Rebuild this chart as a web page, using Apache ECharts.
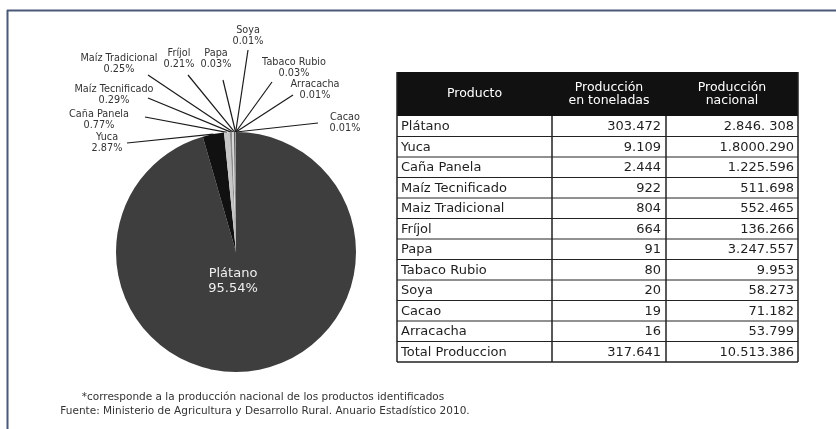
<!DOCTYPE html>
<html><head><meta charset="utf-8">
<script src="https://cdn.jsdelivr.net/npm/echarts@6/dist/echarts.min.js"></script>
<style>html,body{margin:0;padding:0;background:#fff}#c{width:836px;height:429px}</style>
</head><body><div id="c"></div>
<script>
// ---- data ----
const tableProducts = ['Plátano','Yuca','Caña Panela','Maíz Tecnificado','Maiz Tradicional','Fríjol','Papa','Tabaco Rubio','Soya','Cacao','Arracacha','Total Produccion'];
const pieNames = ['Plátano','Yuca','Caña Panela','Maíz Tecnificado','Maíz Tradicional','Fríjol','Papa','Tabaco Rubio','Soya','Cacao','Arracacha'];
const tons = [303472, 9109, 2444, 922, 804, 664, 91, 80, 20, 19, 16];
const tonsText = ['303.472','9.109','2.444','922','804','664','91','80','20','19','16','317.641'];
const nacionalText = ['2.846. 308','1.8000.290','1.225.596','511.698','552.465','136.266','3.247.557','9.953','58.273','71.182','53.799','10.513.386'];
const headers = ['Producto','Producción\nen toneladas','Producción\nnacional'];
const footnotes = ['*corresponde a la producción nacional de los productos identificados','Fuente: Ministerio de Agricultura y Desarrollo Rural. Anuario Estadístico 2010.'];
// order of slices clockwise from the top
const pieOrder = ['Plátano','Yuca','Caña Panela','Maíz Tecnificado','Maíz Tradicional','Fríjol','Papa','Soya','Tabaco Rubio','Arracacha','Cacao'];

// ---- styling / layout ----
const sliceColors = {'Plátano':'#3e3e3e','Yuca':'#111111','Caña Panela':'#c6c6c6','Maíz Tecnificado':'#8c8c8c','Maíz Tradicional':'#d8d8d8','Fríjol':'#5a5a5a','Papa':'#aaaaaa','Soya':'#999999','Tabaco Rubio':'#777777','Arracacha':'#bbbbbb','Cacao':'#666666'};
// label text centre and leader-line end for each outside label
const labelPlace = {
  'Yuca':[107,143,127,143],
  'Caña Panela':[99,120,145,117],
  'Maíz Tecnificado':[114,95,148,98],
  'Maíz Tradicional':[119,64,148,75],
  'Fríjol':[179,59,188,75],
  'Papa':[216,59,223,80],
  'Soya':[248,36,248,50],
  'Tabaco Rubio':[294,68,272,82],
  'Arracacha':[315,90,293,95],
  'Cacao':[345,123,318,123],
  'Plátano':[233,281]
};
const FONT = 'DejaVu Sans';
const total = tons.reduce((a,b)=>a+b,0);

const pieData = pieOrder.map(n => {
  const v = tons[pieNames.indexOf(n)];
  const d = {name:n, value:v, itemStyle:{color:sliceColors[n]}};
  if (n === 'Plátano') {
    d.label = {position:'inside', color:'#eeeeee', fontSize:13, lineHeight:15};
  }
  return d;
});

// ---- table graphics ----
const tX = [397, 552, 666, 798];
const tTop = 72, headH = 44, rowH = 20.5;
const g = [];
// frame
g.push({type:'line', shape:{x1:7.5,y1:10,x2:7.5,y2:429}, style:{stroke:'#4b5878', lineWidth:2}});
g.push({type:'line', shape:{x1:7,y1:10.5,x2:836,y2:10.5}, style:{stroke:'#4b5878', lineWidth:2}});
// header
g.push({type:'rect', shape:{x:tX[0], y:tTop, width:tX[3]-tX[0], height:headH}, style:{fill:'#111111'}});
headers.forEach((h,i)=>{
  g.push({type:'text', style:{text:h, x:(tX[i]+tX[i+1])/2, y:tTop+headH/2, textAlign:'center', textVerticalAlign:'middle', fill:'#ffffff', font:'12.5px "'+FONT+'"', lineHeight:13}});
});
const nRows = tableProducts.length;
const bodyTop = tTop+headH, bodyBottom = bodyTop + nRows*rowH;
for (let r=1; r<=nRows; r++) {
  const y = bodyTop + r*rowH;
  g.push({type:'line', shape:{x1:tX[0],y1:y,x2:tX[3],y2:y}, style:{stroke:'#222', lineWidth: r===nRows?1.5:1}});
}
tX.forEach((x,i)=>{
  g.push({type:'line', shape:{x1:x,y1:(i===0||i===3)?tTop:bodyTop,x2:x,y2:bodyBottom}, style:{stroke:'#222', lineWidth:1.5}});
});
for (let r=0; r<nRows; r++) {
  const y = bodyTop + r*rowH + rowH/2 + 0.5;
  const f = '13px "'+FONT+'"';
  g.push({type:'text', style:{text:tableProducts[r], x:tX[0]+4, y, textAlign:'left', textVerticalAlign:'middle', fill:'#1e1e1e', font:f}});
  g.push({type:'text', style:{text:tonsText[r], x:tX[2]-5, y, textAlign:'right', textVerticalAlign:'middle', fill:'#1e1e1e', font:f}});
  g.push({type:'text', style:{text:nacionalText[r], x:tX[3]-4, y, textAlign:'right', textVerticalAlign:'middle', fill:'#1e1e1e', font:f}});
}
// footnotes
g.push({type:'text', style:{text:footnotes[0], x:263, y:397, textAlign:'center', textVerticalAlign:'middle', fill:'#333', font:'10.5px "'+FONT+'"'}});
g.push({type:'text', style:{text:footnotes[1], x:265, y:411, textAlign:'center', textVerticalAlign:'middle', fill:'#333', font:'10.5px "'+FONT+'"'}});

const chart = echarts.init(document.getElementById('c'), null, {renderer:'canvas'});
chart.setOption({
  animation:false,
  backgroundColor:'#ffffff',
  graphic:g,
  series:[{
    type:'pie',
    center:[236,252],
    radius:120,
    startAngle:90,
    clockwise:true,
    avoidLabelOverlap:false,
    minShowLabelAngle:0,
    data:pieData,
    itemStyle:{borderWidth:0},
    emphasis:{disabled:true},
    label:{
      show:true, position:'outside', color:'#333', fontFamily:FONT, fontSize:9.7, lineHeight:11, align:'center',
      formatter: p => p.name + '\n' + (p.value/total*100).toFixed(2) + '%'
    },
    labelLine:{show:true, length:10, length2:0, smooth:false, lineStyle:{color:'#1a1a1a', width:1.2}},
    labelLayout: function(params){
      const n = pieOrder[params.dataIndex];
      const p = labelPlace[n];
      if (!p) return {};
      const out = {x:p[0], y:p[1], align:'center', verticalAlign:'middle'};
      if (p.length > 2 && params.labelLinePoints) {
        const s = params.labelLinePoints[0];
        out.labelLinePoints = [s, [p[2],p[3]], [p[2],p[3]]];
      }
      return out;
    }
  }],
  textStyle:{fontFamily:FONT}
});
</script></body></html>
